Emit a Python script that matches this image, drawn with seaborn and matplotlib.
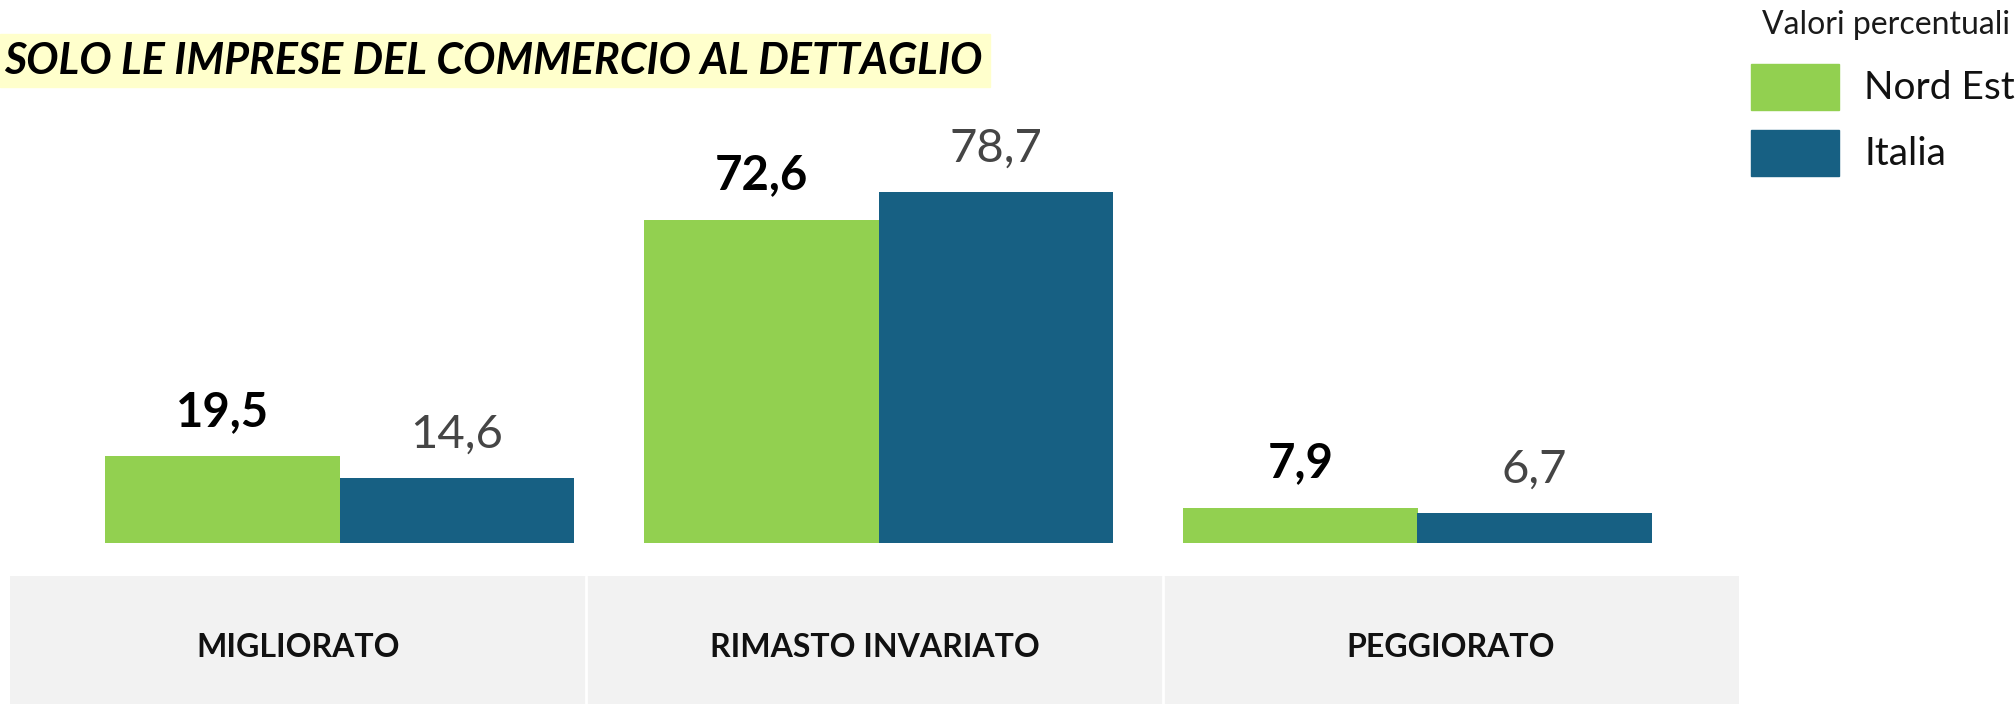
import matplotlib
matplotlib.use("Agg")
import matplotlib.pyplot as plt
from matplotlib.patches import Rectangle
import pandas as pd
import seaborn as sns

# Dati (valori percentuali)
categorie = ["MIGLIORATO", "RIMASTO INVARIATO", "PEGGIORATO"]
serie = ["Nord Est", "Italia"]
nord_est = [19.5, 72.6, 7.9]
italia = [14.6, 78.7, 6.7]

titolo = "SOLO LE IMPRESE DEL COMMERCIO AL DETTAGLIO"
titolo_legenda = "Valori percentuali"

colori = {"Nord Est": "#92D050", "Italia": "#176083"}

df = pd.DataFrame({
    "categoria": categorie * 2,
    "serie": [serie[0]] * 3 + [serie[1]] * 3,
    "valore": nord_est + italia,
})

sns.set_theme(style="white")
plt.rcParams["font.family"] = ["Lato", "DejaVu Sans"]

W, H = 2016, 704
fig = plt.figure(figsize=(W / 100, H / 100), dpi=100)

# Asse principale con le barre
ax = fig.add_axes([70 / W, 161 / H, 1617 / W, 401 / H])
sns.barplot(data=df, x="categoria", y="valore", hue="serie", order=categorie,
            hue_order=serie, palette=colori, width=0.87, saturation=1,
            edgecolor="none", linewidth=0, legend=False, ax=ax)
ax.set_xlim(-0.5, 2.5)
ax.set_ylim(0, 90)
ax.set_xlabel("")
ax.set_ylabel("")
ax.set_xticks([])
ax.set_yticks([])
sns.despine(ax=ax, left=True, bottom=True)

# Etichette dei valori
for cont, nome in zip(ax.containers, serie):
    labels = [f"{v:.1f}".replace(".", ",") for v in cont.datavalues]
    if nome == "Nord Est":
        ax.bar_label(cont, labels=labels, padding=16, fontsize=34,
                     fontweight="bold", color="black")
    else:
        ax.bar_label(cont, labels=labels, padding=16, fontsize=34,
                     fontweight="normal", color="#454545")

# Legenda (disegnata a mano per posizionarla come nell'originale)
fig.text(2010 / W, 1 - 25 / H, titolo_legenda, ha="right", va="center",
         fontsize=23, color="#1a1a1a")
for k, nome in enumerate(serie):
    top = 64 + k * 66
    fig.patches.append(Rectangle((1751 / W, 1 - (top + 46) / H), 88 / W, 46 / H,
                                 transform=fig.transFigure,
                                 color=colori[nome]))
    fig.text(1864 / W, 1 - (top + 24) / H, nome, ha="left", va="center",
             fontsize=28, color="#111111")

# Titolo evidenziato
fig.patches.append(Rectangle((0, 1 - 87 / H), 990 / W, 53 / H,
                             transform=fig.transFigure, color="#FFFFCC",
                             zorder=0))
fig.text(982 / W, 1 - 61 / H, titolo, ha="right", va="center", fontsize=31,
         fontweight="bold", fontstyle="italic", color="black")

# Fascia delle categorie
ax2 = fig.add_axes([10 / W, 0, 1729 / W, 128 / H])
ax2.set_xlim(0, 3)
ax2.set_ylim(0, 1)
ax2.axis("off")
for i, cat in enumerate(categorie):
    ax2.axvspan(i, i + 1, color="#F2F2F2", lw=0)
    ax2.text(i + 0.5, 0.445, cat, ha="center", va="center", fontsize=23,
             fontweight="bold", color="#111111")
for i in range(1, len(categorie)):
    ax2.axvline(i, color="white", lw=2)

fig.savefig("out.png", dpi=100)
